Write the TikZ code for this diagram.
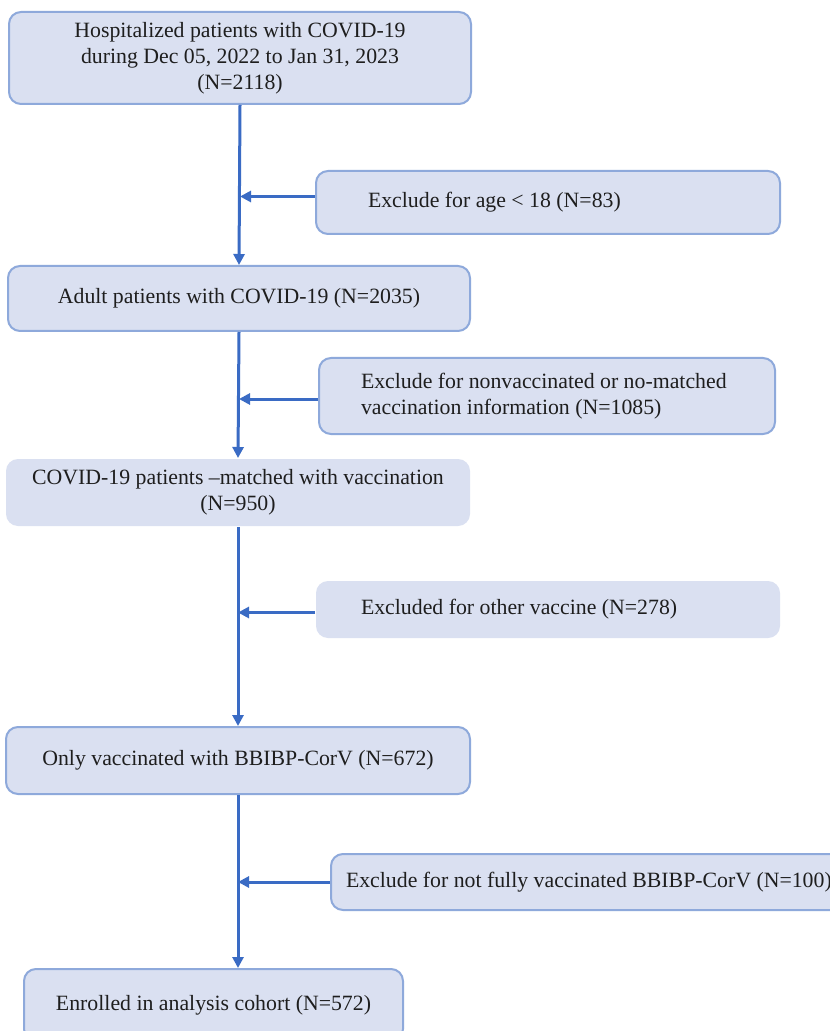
\documentclass[tikz,border=0pt]{standalone}
\usepackage{fontspec}
\setmainfont{Liberation Serif}
\usepackage{xcolor}
\usetikzlibrary{arrows.meta}
\definecolor{boxfill}{HTML}{DAE0F1}
\definecolor{boxline}{HTML}{8EA9DB}
\definecolor{flowline}{HTML}{3A6BC4}
\definecolor{txt}{HTML}{1E1E1E}

\begin{document}
\begin{tikzpicture}[x=0.5pt, y=-0.5pt,
  box/.style={fill=boxfill, draw=boxline, line width=1pt, rounded corners=6pt, text=txt,
    font=\fontsize{10.9}{13}\selectfont, align=center, inner sep=0pt},
  flat/.style={box, draw=none},
  side/.style={align=flush left, text width=#1},
  flow/.style={draw=flowline, line width=1.5pt, -{Triangle[length=5.5pt,width=5.5pt]}}]
\useasboundingbox (0,0) rectangle (829,1031);
\fill[white] (0,0) rectangle (829,1031);

\node[box, minimum width=231pt, minimum height=46pt] (hosp) at (240,58) {Hospitalized patients with COVID-19\\during Dec 05, 2022 to Jan 31, 2023\\(N=2118)};
\node[box, minimum width=232pt, minimum height=31.5pt, inner xsep=26pt, side=180pt] (exage) at (548,202.5) {Exclude for age < 18 (N=83)};
\node[box, minimum width=231pt, minimum height=32.5pt] (adult) at (239,298.5) {Adult patients with COVID-19 (N=2035)};
\node[box, minimum width=228pt, minimum height=38pt, inner xsep=21pt, side=186pt] (exvac) at (547,396) {Exclude for nonvaccinated or no-matched\\vaccination information (N=1085)};
\node[flat, minimum width=232pt, minimum height=33.5pt] (matched) at (238,492.5) {COVID-19 patients --matched with vaccination\\(N=950)};
\node[flat, minimum width=232pt, minimum height=28.5pt, inner xsep=22.5pt, side=187pt] (exother) at (548,609.5) {Excluded for other vaccine (N=278)};
\node[box, minimum width=232pt, minimum height=33.5pt] (only) at (238,760.5) {Only vaccinated with BBIBP-CorV (N=672)};
\node[box, minimum width=270pt, minimum height=28pt, inner xsep=7.5pt, side=255pt, anchor=west] (exfull) at (330,882) {Exclude for not fully vaccinated BBIBP-CorV (N=100)};
\node[box, minimum width=189.5pt, minimum height=36pt] (enrolled) at (213.5,1005) {Enrolled in analysis cohort (N=572)};

\draw[flow] (hosp.south) -- (adult.north);
\draw[flow] (adult.south) -- (matched.north);
\draw[flow] (matched.south) -- (only.north);
\draw[flow] (only.south) -- (only.south |- enrolled.north);
\draw[flow] ([yshift=3pt]exage.west) -- ([yshift=3pt]exage.west -| hosp.south);
\draw[flow] ([yshift=-1.5pt]exvac.west) -- ([yshift=-1.5pt]exvac.west -| adult.south);
\draw[flow] ([yshift=-1.5pt]exother.west) -- ([yshift=-1.5pt]exother.west -| matched.south);
\draw[flow] (exfull.west) -- (exfull.west -| only.south);
\end{tikzpicture}
\end{document}
